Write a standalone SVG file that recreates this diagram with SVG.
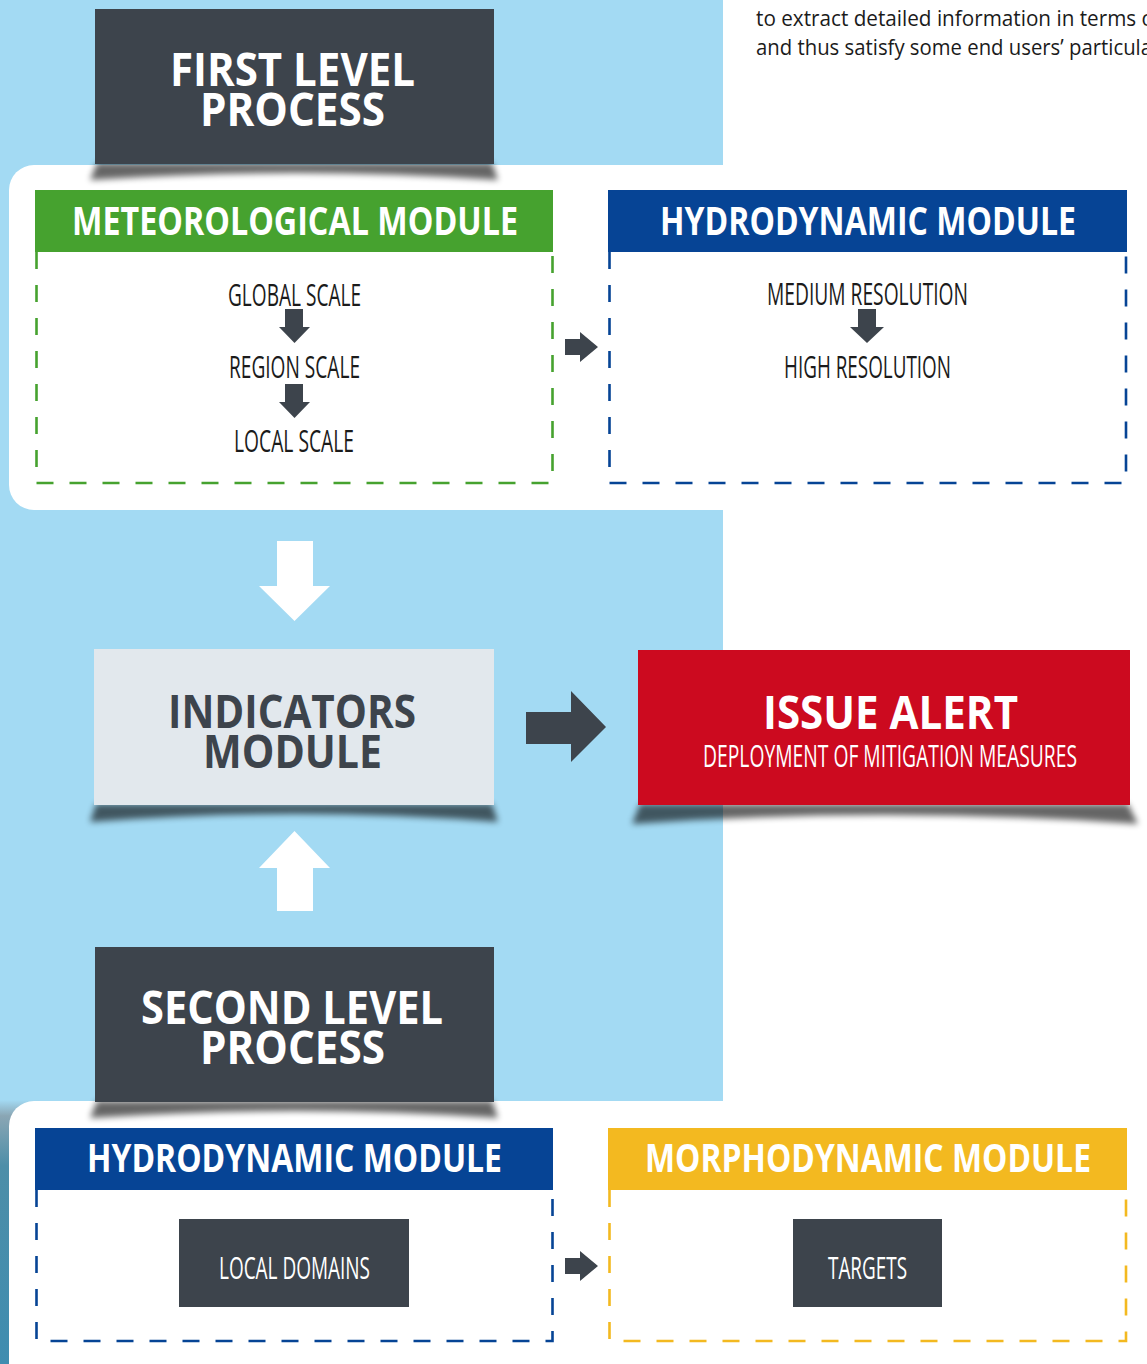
<svg xmlns="http://www.w3.org/2000/svg" width="1147" height="1364" viewBox="0 0 1147 1364">
<defs>
<style>
.hd{font-family:"Open Sans","Liberation Sans",sans-serif;font-weight:700;fill:#fff;}
.big{font-size:46px;}
.mh{font-size:39px;}
.it{font-family:"Open Sans","Liberation Sans",sans-serif;font-weight:400;font-size:31px;fill:#1b1b1b;}
.wt{font-family:"Open Sans","Liberation Sans",sans-serif;font-weight:400;font-size:31px;fill:#fff;}
.body{font-family:"Open Sans","Liberation Sans",sans-serif;font-size:21px;fill:#1b1b1b;}
.dark{fill:#3d444c;}
.dash{fill:none;stroke-width:2.6;stroke-dasharray:17 16;}
.shadow{fill:#000;opacity:0.6;filter:url(#blur);}
</style>
<filter id="blur" x="-10%" y="-100%" width="120%" height="300%"><feGaussianBlur stdDeviation="3"/></filter>
<linearGradient id="teal" x1="0" y1="0" x2="0" y2="1">
<stop offset="0" stop-color="#a3daf3"/>
<stop offset="0.06" stop-color="#8aa6b4"/>
<stop offset="0.25" stop-color="#4d8ea8"/>
<stop offset="1" stop-color="#3f8db0"/>
</linearGradient>
</defs>

<!-- background -->
<rect x="0" y="0" width="1147" height="1364" fill="#fff"/>
<rect x="0" y="0" width="723" height="1101" fill="#a3daf3"/>
<rect x="0" y="1100" width="40" height="264" fill="url(#teal)"/>
<rect x="9" y="165" width="1180" height="345" rx="25" fill="#fff"/>
<rect x="9" y="1101" width="1180" height="300" rx="25" fill="#fff"/>

<g id="intro-text">
<text class="body" x="756" y="26" textLength="398" lengthAdjust="spacingAndGlyphs">to extract detailed information in terms o</text>
<text class="body" x="756" y="55" textLength="396" lengthAdjust="spacingAndGlyphs">and thus satisfy some end users’ particula</text>
</g>

<g id="first-level">
<path class="shadow" d="M97,163 L492,163 L498,180 Q294,166 90,180 Z"/>
<rect class="dark" x="95" y="9" width="399" height="155"/>
<text class="hd big"><tspan x="170" y="86" textLength="245" lengthAdjust="spacingAndGlyphs">FIRST LEVEL</tspan><tspan x="200" y="126" textLength="185" lengthAdjust="spacingAndGlyphs">PROCESS</tspan></text>
</g>

<g id="meteorological-module">
<rect x="35" y="190" width="518" height="62" fill="#46a22f"/>
<text class="hd mh" x="72" y="235" textLength="446" lengthAdjust="spacingAndGlyphs">METEOROLOGICAL MODULE</text>
<path class="dash" stroke="#46a22f" d="M36.5,252 V483 H552.5 V252"/>
<text class="it" x="228" y="306" textLength="133" lengthAdjust="spacingAndGlyphs">GLOBAL SCALE</text>
<text class="it" x="229" y="378" textLength="131" lengthAdjust="spacingAndGlyphs">REGION SCALE</text>
<text class="it" x="234" y="452" textLength="120" lengthAdjust="spacingAndGlyphs">LOCAL SCALE</text>
</g>

<g id="hydrodynamic-module-1">
<rect x="608" y="190" width="519" height="62" fill="#064495"/>
<text class="hd mh" x="660" y="235" textLength="416" lengthAdjust="spacingAndGlyphs">HYDRODYNAMIC MODULE</text>
<path class="dash" stroke="#064495" d="M609.5,252 V483 H1126 V252"/>
<text class="it" x="767" y="305" textLength="201" lengthAdjust="spacingAndGlyphs">MEDIUM RESOLUTION</text>
<text class="it" x="784" y="378" textLength="167" lengthAdjust="spacingAndGlyphs">HIGH RESOLUTION</text>
</g>

<g id="indicators-module">
<path class="shadow" d="M96,804 L492,804 L498,822 Q294,806 90,822 Z"/>
<rect x="94" y="649" width="400" height="156" fill="#e2e8ed"/>
<text class="hd big" style="fill:#3d444c"><tspan x="168" y="728" textLength="248" lengthAdjust="spacingAndGlyphs">INDICATORS</tspan><tspan x="203" y="768" textLength="179" lengthAdjust="spacingAndGlyphs">MODULE</tspan></text>
</g>

<g id="issue-alert">
<path class="shadow" d="M640,804 L1128,804 L1138,824 Q884,806 632,824 Z"/>
<rect x="638" y="650" width="492" height="155" fill="#cc0a1f"/>
<text class="hd big" x="763" y="729" textLength="255" lengthAdjust="spacingAndGlyphs">ISSUE ALERT</text>
<text class="wt" x="703" y="767" textLength="374" lengthAdjust="spacingAndGlyphs">DEPLOYMENT OF MITIGATION MEASURES</text>
</g>

<g id="second-level">
<path class="shadow" d="M97,1101 L492,1101 L498,1118 Q294,1104 90,1118 Z"/>
<rect class="dark" x="95" y="947" width="399" height="155"/>
<text class="hd big"><tspan x="141" y="1024" textLength="302" lengthAdjust="spacingAndGlyphs">SECOND LEVEL</tspan><tspan x="200" y="1064" textLength="185" lengthAdjust="spacingAndGlyphs">PROCESS</tspan></text>
</g>

<g id="hydrodynamic-module-2">
<rect x="35" y="1128" width="518" height="62" fill="#064495"/>
<text class="hd mh" x="87" y="1172" textLength="415" lengthAdjust="spacingAndGlyphs">HYDRODYNAMIC MODULE</text>
<path class="dash" stroke="#064495" d="M36.5,1190 V1341 H552.5 V1190"/>
</g>

<g id="local-domains">
<rect class="dark" x="179" y="1219" width="230" height="88"/>
<text class="wt" x="219" y="1279" textLength="151" lengthAdjust="spacingAndGlyphs">LOCAL DOMAINS</text>
</g>

<g id="morphodynamic-module">
<rect x="608" y="1128" width="519" height="62" fill="#f3b920"/>
<text class="hd mh" x="645" y="1172" textLength="446" lengthAdjust="spacingAndGlyphs">MORPHODYNAMIC MODULE</text>
<path class="dash" stroke="#f3b920" d="M609.5,1190 V1341 H1126 V1190"/>
</g>

<g id="targets">
<rect class="dark" x="793" y="1219" width="149" height="88"/>
<text class="wt" x="828" y="1279" textLength="79" lengthAdjust="spacingAndGlyphs">TARGETS</text>
</g>

<g id="connectors">
<polygon class="dark" points="285,309 303,309 303,327 310,327 294.5,343 279,327 285,327"/>
<polygon class="dark" points="285,384 303,384 303,402 310,402 294.5,418 279,402 285,402"/>
<polygon class="dark" points="858,309 876,309 876,327 884,327 867,343 850,327 858,327"/>
<polygon class="dark" points="565,339 580,339 580,332 598,347 580,362 580,355 565,355"/>
<polygon class="dark" points="565,1258 580,1258 580,1251 598,1266 580,1281 580,1274 565,1274"/>
<polygon fill="#fff" points="277,541 313,541 313,586 330,586 294.5,621 259,586 277,586"/>
<polygon fill="#fff" points="277,911 313,911 313,868 330,868 294.5,831 259,868 277,868"/>
<polygon class="dark" points="526,712 571,712 571,691 606,727 571,762 571,744 526,744"/>
</g>
</svg>
